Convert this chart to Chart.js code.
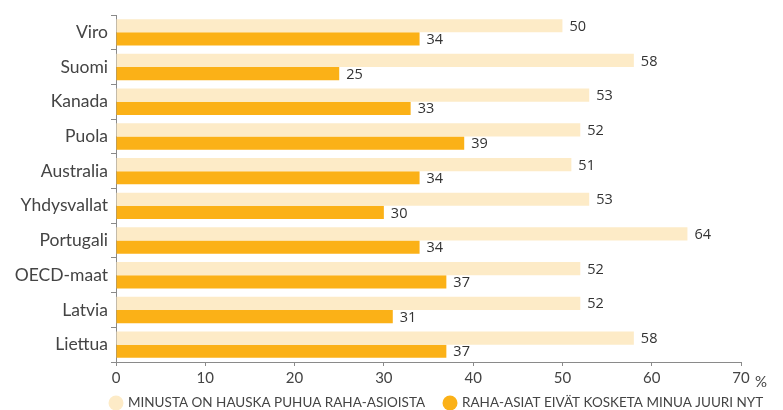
<!DOCTYPE html>
<html>
<head>
<meta charset="utf-8">
<script src="https://cdn.jsdelivr.net/npm/chart.js@4"></script>
<style>
html,body{margin:0;padding:0;background:#fff;}
#wrap{width:783px;height:410px;position:relative;}
</style>
</head>
<body>
<div id="wrap"><canvas id="c" width="783" height="410"></canvas></div>
<script>
const categories = ["Viro","Suomi","Kanada","Puola","Australia","Yhdysvallat","Portugali","OECD-maat","Latvia","Liettua"];
const seriesNames = ["MINUSTA ON HAUSKA PUHUA RAHA-ASIOISTA","RAHA-ASIAT EIVÄT KOSKETA MINUA JUURI NYT"];
const fun = [50,58,53,52,51,53,64,52,52,58];
const notConcern = [34,25,33,39,34,30,34,37,31,37];
const xTicks = [0,10,20,30,40,50,60,70];

const LIGHT = "#FDEBC7";
const DARK = "#FBB117";
const TEXT = "#444444";
const FONT = "Lato, 'Open Sans', sans-serif";

const valueLabels = {
  id: "valueLabels",
  afterDatasetsDraw(chart) {
    const ctx = chart.ctx;
    ctx.save();
    ctx.font = "14.5px 'Open Sans', sans-serif";
    ctx.fillStyle = "#333333";
    ctx.textAlign = "left";
    ctx.textBaseline = "middle";
    chart.data.datasets.forEach((ds, i) => {
      const meta = chart.getDatasetMeta(i);
      meta.data.forEach((bar, j) => {
        ctx.fillText(String(ds.data[j]), bar.x + 7, bar.y + 1);
      });
    });
    ctx.restore();
  }
};

const extras = {
  id: "extras",
  afterDraw(chart) {
    const ctx = chart.ctx;
    const xs = chart.scales.x;
    ctx.save();
    ctx.font = "15px " + FONT;
    ctx.fillStyle = TEXT;
    ctx.textBaseline = "middle";
    ctx.textAlign = "left";
    const px = xs.getPixelForValue(xTicks[xTicks.length - 1]);
    ctx.fillText("%", px + 14, 382);
    const items = [
      {x: 116, color: LIGHT, text: seriesNames[0]},
      {x: 450, color: DARK, text: seriesNames[1]}
    ];
    ctx.font = "13.5px " + FONT;
    items.forEach(it => {
      ctx.beginPath();
      ctx.arc(it.x, 403, 7.5, 0, Math.PI * 2);
      ctx.fillStyle = it.color;
      ctx.fill();
      ctx.fillStyle = TEXT;
      ctx.fillText(it.text, it.x + 12, 403);
    });
    ctx.restore();
  }
};

new Chart(document.getElementById("c"), {
  type: "bar",
  data: {
    labels: categories,
    datasets: [
      {label: seriesNames[0], data: fun, backgroundColor: LIGHT, categoryPercentage: 0.76, barPercentage: 1.0},
      {label: seriesNames[1], data: notConcern, backgroundColor: DARK, categoryPercentage: 0.76, barPercentage: 1.0}
    ]
  },
  options: {
    indexAxis: "y",
    responsive: false,
    animation: false,
    layout: {padding: {top: 15, right: 42, bottom: 22, left: 0}},
    plugins: {legend: {display: false}, tooltip: {enabled: false}},
    scales: {
      x: {
        min: 0, max: 70,
        afterBuildTicks(scale) { scale.ticks = xTicks.map(v => ({value: v})); },
        afterFit(scale) { scale.height = 26; },
        border: {color: "#8a8a8a", width: 1},
        grid: {drawOnChartArea: false, tickLength: 4, color: "#8a8a8a"},
        ticks: {color: TEXT, font: {family: FONT, size: 15}, padding: 3, maxRotation: 0}
      },
      y: {
        afterFit(scale) { scale.width = 116; },
        border: {color: "#8a8a8a", width: 1},
        grid: {drawOnChartArea: false, tickLength: 5, color: "#8a8a8a", offset: true},
        ticks: {color: TEXT, font: {family: FONT, size: 17.5}, padding: 3}
      }
    }
  },
  plugins: [valueLabels, extras]
});
</script>
</body>
</html>
